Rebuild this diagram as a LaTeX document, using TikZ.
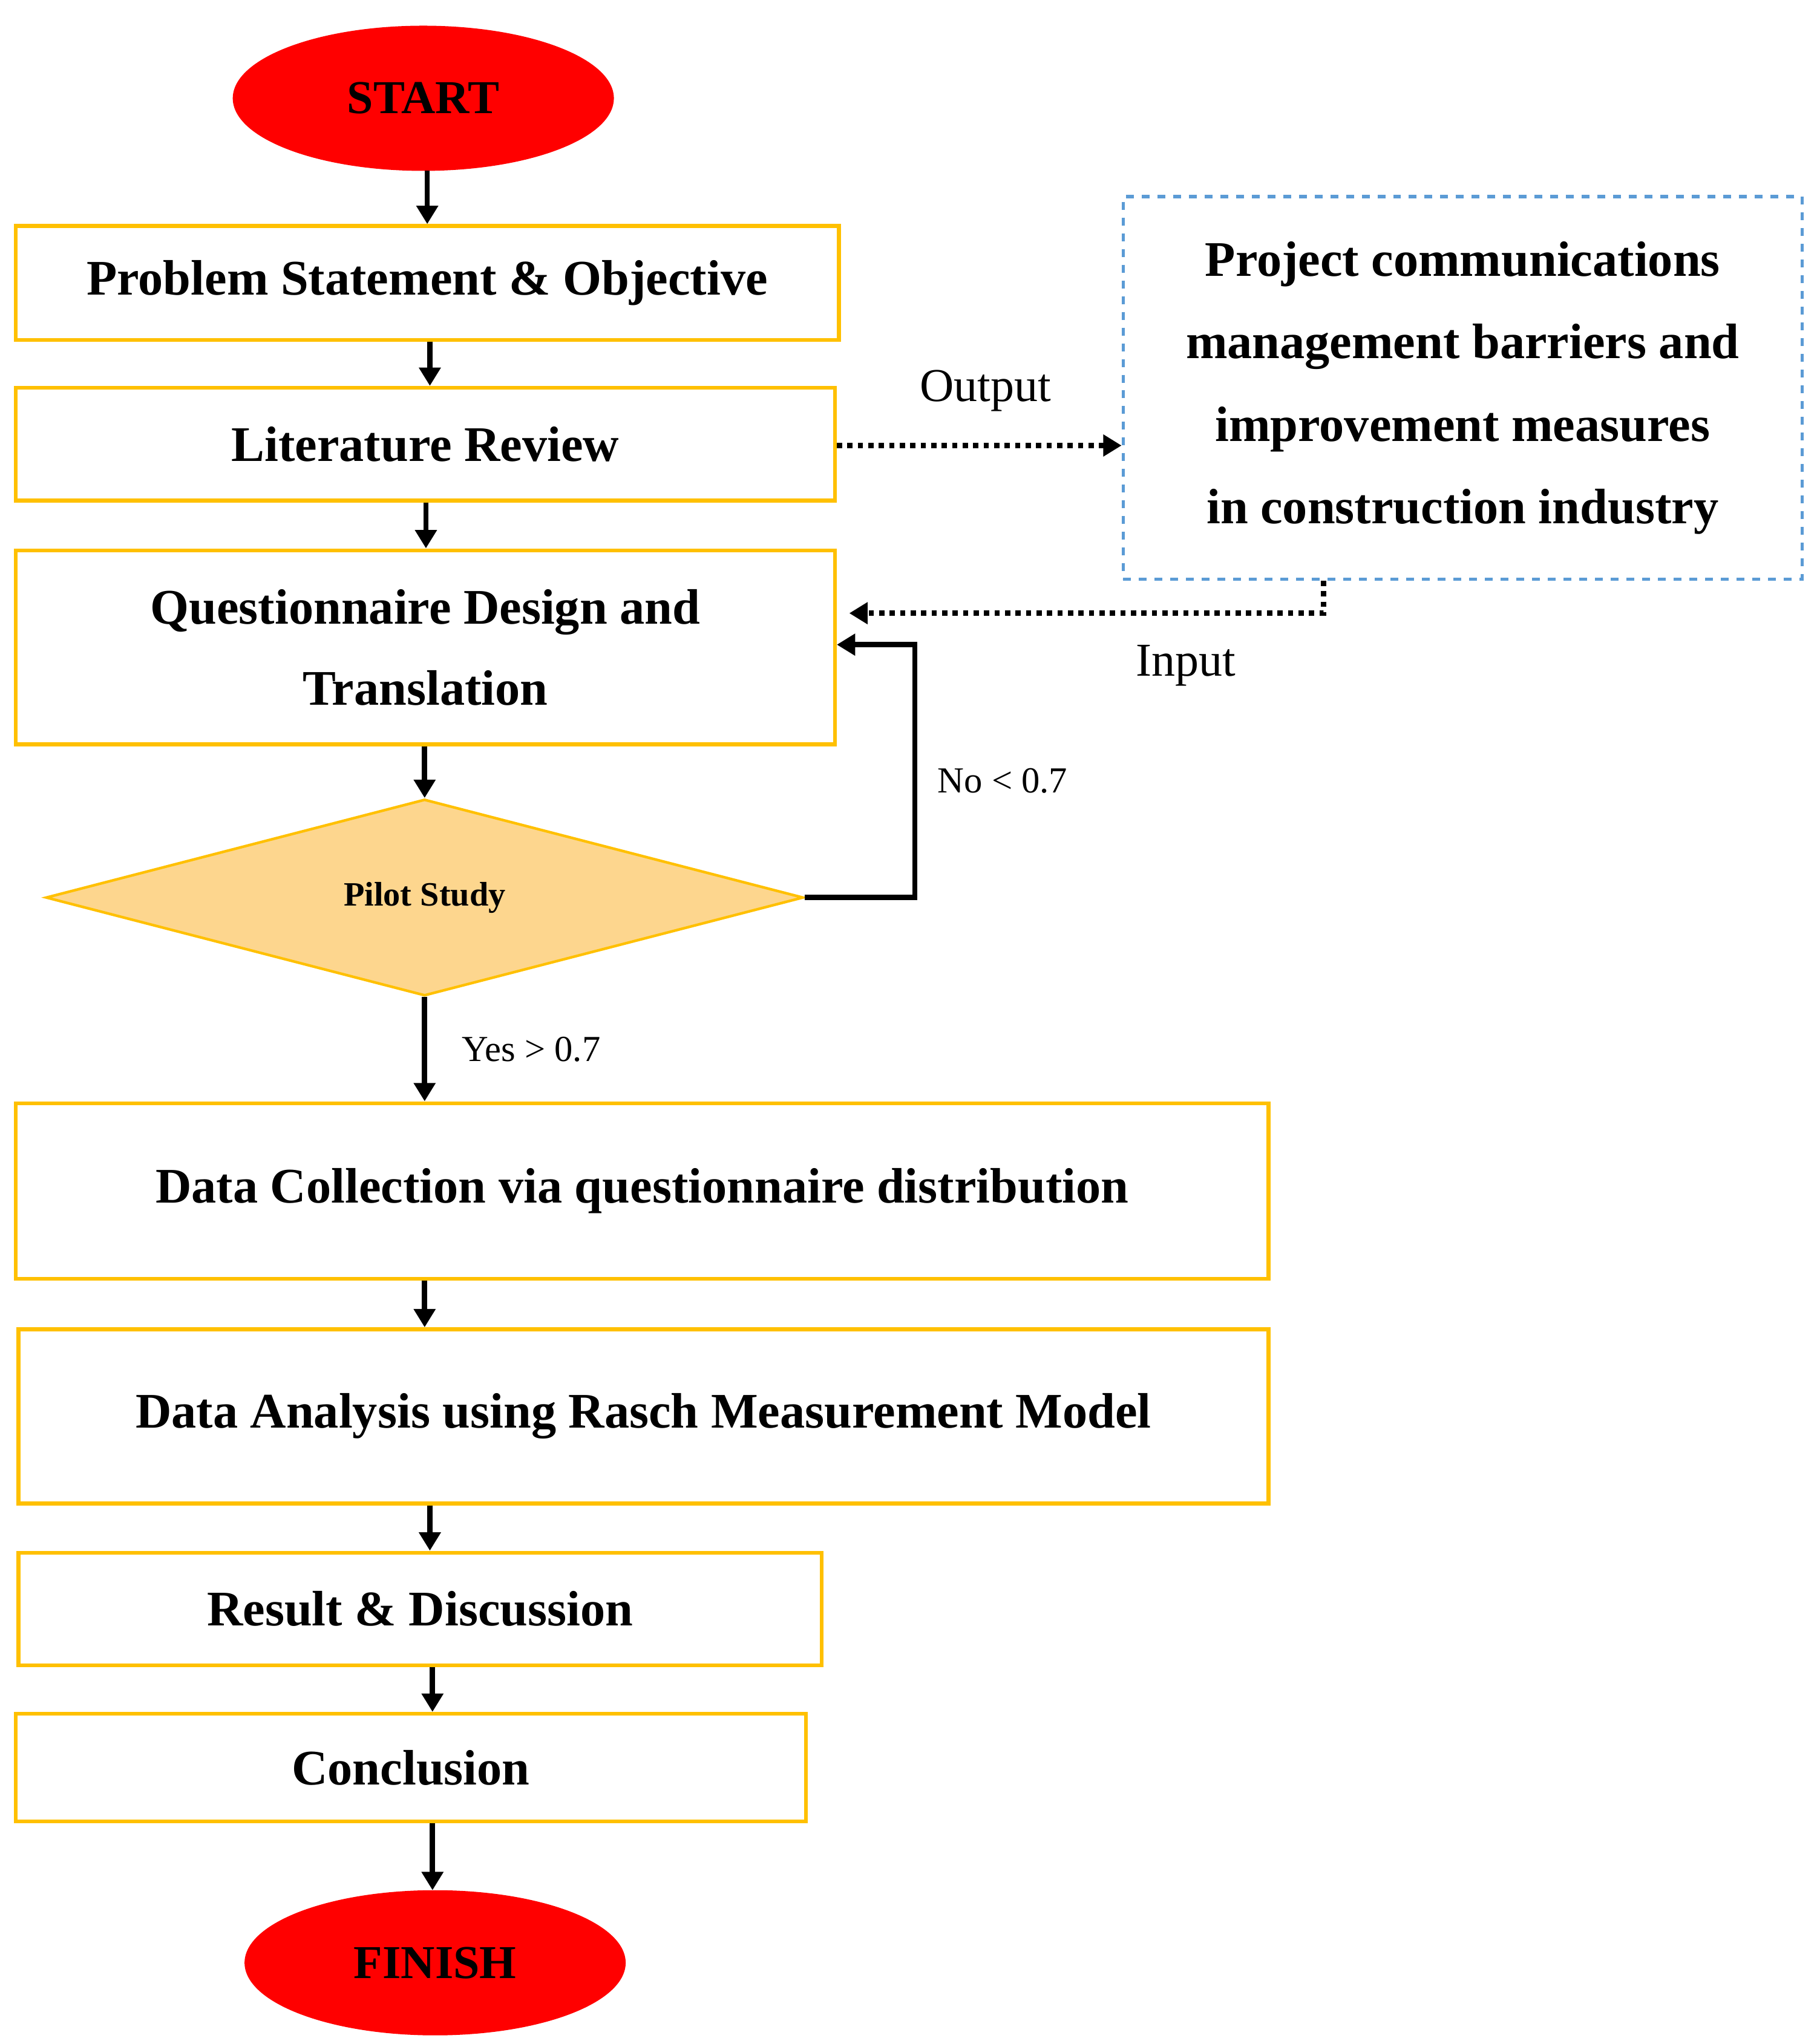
\documentclass[tikz,border=0pt]{standalone}
\usepackage{fontspec}
\setmainfont{Liberation Serif}
\usetikzlibrary{shapes.geometric,arrows.meta}
\definecolor{box}{HTML}{FFC000}
\definecolor{blu}{HTML}{5B9BD5}
\definecolor{dia}{HTML}{FDD68E}
\begin{document}
\begin{tikzpicture}[x=0.5pt,y=-0.5pt,
 bx/.style={draw=box,line width=1.5pt,inner sep=0pt,font=\fontsize{19}{31}\selectfont\bfseries,align=center},
 el/.style={ellipse,fill=red,draw=red,inner sep=0pt,minimum width=145pt,minimum height=55pt,font=\fontsize{18}{20}\selectfont\bfseries},
 ar/.style={line width=2pt,-{Triangle[length=7pt,width=8pt]}},
 dt/.style={line width=2pt,dotted,-{Triangle[length=7pt,width=8pt]}},
 lb/.style={font=\fontsize{14}{15}\selectfont}]
\useasboundingbox (0,0) rectangle (1386,1560);
\node[el] (start) at (323,75) {START};
\node[bx,minimum width=314pt,minimum height=43.5pt] (b1) at (326,216) {Problem Statement \& Objective};
\node[bx,minimum width=312.5pt,minimum height=43pt] (b2) at (324.5,339) {Literature Review};
\node[bx,minimum width=312.5pt,minimum height=74pt] (b3) at (324.5,494) {Questionnaire Design and\\Translation};
\node[diamond,draw=box,fill=dia,line width=1pt,minimum width=289pt,minimum height=75pt,inner sep=0pt,aspect=3.85,font=\fontsize{13}{14}\selectfont\bfseries] (d) at (324,685) {Pilot Study};
\node[bx,minimum width=478pt,minimum height=67pt] (b4) at (490,909) {Data Collection via questionnaire distribution};
\node[bx,minimum width=477pt,minimum height=66.5pt] (b5) at (491,1081) {Data Analysis using Rasch Measurement Model};
\node[bx,minimum width=306.5pt,minimum height=43pt] (b6) at (320.5,1228) {Result \& Discussion};
\node[bx,minimum width=301.5pt,minimum height=41pt] (b7) at (313.5,1349) {Conclusion};
\node[el] (fin) at (332,1498) {FINISH};
\node[draw=blu,dashed,line width=1.2pt,minimum width=259pt,minimum height=146pt,inner sep=0pt,align=center,font=\fontsize{19}{31.5}\selectfont\bfseries] (p) at (1116,296) {Project communications\\management barriers and\\improvement measures\\in construction industry};
\draw[ar] (start.south -| 326,0) -- (b1.north -| 326,0);
\draw[ar] (b1.south -| 328,0) -- (b2.north -| 328,0);
\draw[ar] (b2.south -| 325,0) -- (b3.north -| 325,0);
\draw[ar] (b3.south -| 324,0) -- (d.north);
\draw[ar] (d.south) -- (b4.north -| 324,0) node[lb,midway,right=10pt] {Yes > 0.7};
\draw[ar] (b4.south -| 324,0) -- (b5.north -| 324,0);
\draw[ar] (b5.south -| 328,0) -- (b6.north -| 328,0);
\draw[ar] (b6.south -| 330,0) -- (b7.north -| 330,0);
\draw[ar] (b7.south -| 330,0) -- (fin.north -| 330,0);
\draw[line width=2pt,-{Triangle[length=7pt,width=8pt]}] (d.east) -- (698,685) -- (698,492) -- (b3.east |- 0,492);
\node[lb] (no) at (765,596) {No < 0.7};
\coordinate (pi) at (1010,468);
\draw[dt] (b2.east |- 0,340) -- (p.west |- 0,340);
\draw[dt] (p.south -| 1010,0) -- (pi) -- (648,468);
\node[font=\fontsize{18}{20}\selectfont] (out) at (752,298) {Output};
\node[font=\fontsize{18}{20}\selectfont] (in) at (905,508) {Input};
\end{tikzpicture}
\end{document}
